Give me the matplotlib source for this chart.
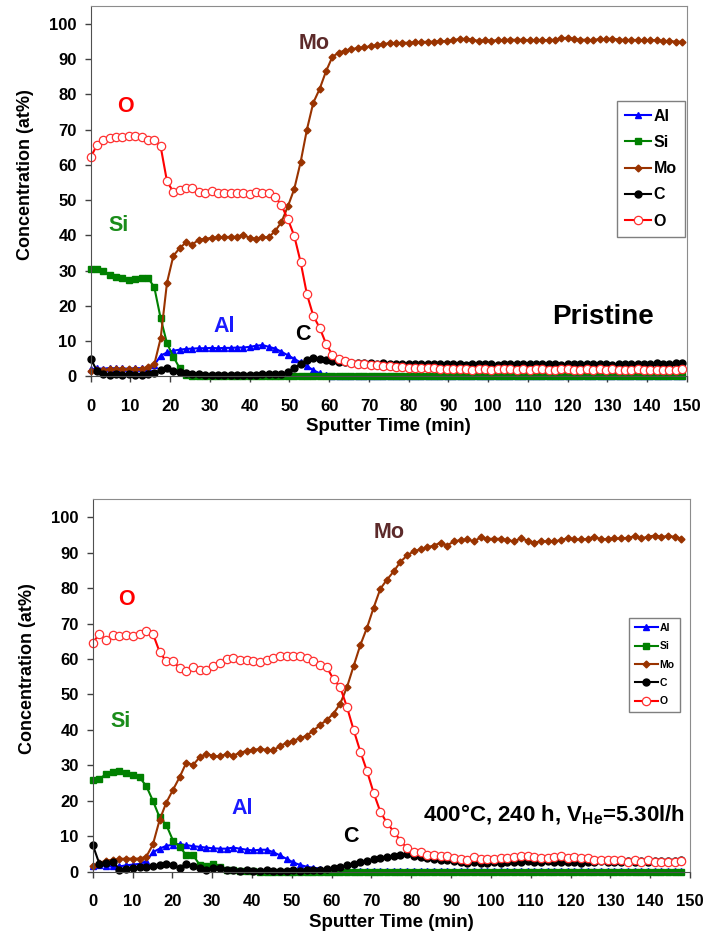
import numpy as np
import matplotlib
matplotlib.use('Agg')
import matplotlib.pyplot as plt

plt.rcParams['font.family'] = ['Liberation Sans', 'DejaVu Sans']
plt.rcParams['font.weight'] = 'bold'
plt.rcParams['axes.labelweight'] = 'bold'
plt.rcParams['mathtext.fontset'] = 'custom'
plt.rcParams['mathtext.rm'] = 'Liberation Sans'
plt.rcParams['mathtext.bf'] = 'Liberation Sans:bold'

# ---- top panel (pristine), one point every 1.6 min ----
t_top = np.arange(94) * 1.6

al_top = [2.0, 2.3, 2.2, 2.4, 2.3, 2.3, 2.2, 2.4, 2.3, 2.5,
          3.2, 5.9, 6.8, 7.3, 7.6, 7.8, 7.9, 8.0, 8.0, 8.1,
          8.0, 8.1, 8.1, 8.2, 8.2, 8.4, 8.7, 8.9, 8.4, 7.9,
          7.0, 6.0, 5.0, 4.0, 2.9, 1.8, 0.9, 0.4, 0.2, 0.1,
          0.1, 0.1, 0.1, 0.1, 0.1, 0.1, 0.1, 0.1, 0.1, 0.1,
          0.1, 0.1, 0.1, 0.1, 0.1, 0.1, 0.1, 0.1, 0.1, 0.1,
          0.1, 0.1, 0.1, 0.1, 0.1, 0.1, 0.1, 0.1, 0.1, 0.1,
          0.1, 0.1, 0.1, 0.1, 0.1, 0.1, 0.1, 0.1, 0.1, 0.1,
          0.1, 0.1, 0.1, 0.1, 0.1, 0.1, 0.1, 0.1, 0.1, 0.1,
          0.1, 0.1, 0.1, 0.1]
si_top = [30.6, 30.4, 29.9, 28.8, 28.3, 27.9, 27.4, 27.5, 27.8, 28.0,
          25.3, 16.5, 9.4, 5.6, 2.3, 0.5, 0.2, 0.1, 0.1, 0.0,
          0.0, 0.0, 0.0, 0.0, 0.0, 0.0, 0.0, 0.0, 0.0, 0.0,
          0.0, 0.0, 0.0, 0.0, 0.0, 0.0, 0.0, 0.0, 0.0, 0.0,
          0.0, 0.0, 0.0, 0.0, 0.0, 0.0, 0.0, 0.0, 0.0, 0.0,
          0.0, 0.0, 0.0, 0.0, 0.0, 0.0, 0.0, 0.0, 0.0, 0.0,
          0.0, 0.0, 0.0, 0.0, 0.0, 0.0, 0.0, 0.0, 0.0, 0.0,
          0.0, 0.0, 0.0, 0.0, 0.0, 0.0, 0.0, 0.0, 0.0, 0.0,
          0.0, 0.0, 0.0, 0.0, 0.0, 0.0, 0.0, 0.0, 0.0, 0.0,
          0.0, 0.0, 0.0, 0.0]
mo_top = [1.6, 1.8, 1.9, 2.0, 2.0, 2.0, 2.1, 2.0, 2.1, 2.8,
          3.4, 10.8, 26.6, 34.2, 36.4, 38.0, 37.4, 38.8, 39.0, 39.3,
          39.4, 39.5, 39.6, 39.6, 40.2, 39.2, 39.1, 39.4, 39.5, 41.2,
          43.8, 48.2, 53.1, 60.7, 70.0, 77.6, 81.5, 86.5, 90.6, 91.8,
          92.4, 92.8, 93.1, 93.3, 93.6, 93.9, 94.2, 94.5, 94.5, 94.6,
          94.6, 94.7, 94.8, 94.9, 94.9, 95.0, 95.1, 95.3, 95.7, 95.7,
          95.5, 95.1, 95.3, 95.2, 95.3, 95.4, 95.5, 95.4, 95.5, 95.3,
          95.4, 95.4, 95.3, 95.5, 95.9, 96.0, 95.7, 95.4, 95.5, 95.3,
          95.7, 95.6, 95.8, 95.5, 95.4, 95.4, 95.4, 95.3, 95.4, 95.3,
          95.1, 95.1, 94.9, 94.9]
c_top = [5.0, 1.6, 0.6, 0.5, 0.6, 0.3, 0.6, 0.4, 0.4, 0.6,
         1.1, 1.7, 2.4, 1.6, 1.2, 0.9, 0.7, 0.6, 0.5, 0.5,
         0.4, 0.4, 0.3, 0.4, 0.4, 0.5, 0.5, 0.6, 0.6, 0.7,
         0.8, 1.2, 2.3, 3.6, 4.7, 5.1, 4.9, 4.6, 4.3, 4.1,
         4.0, 3.9, 3.8, 3.8, 3.7, 3.6, 3.7, 3.5, 3.6, 3.5,
         3.4, 3.6, 3.5, 3.4, 3.5, 3.6, 3.5, 3.4, 3.5, 3.3,
         3.4, 3.5, 3.6, 3.4, 3.3, 3.5, 3.6, 3.4, 3.5, 3.6,
         3.5, 3.4, 3.6, 3.5, 3.3, 3.4, 3.6, 3.5, 3.4, 3.5,
         3.6, 3.4, 3.3, 3.5, 3.4, 3.6, 3.5, 3.4, 3.6, 3.7,
         3.5, 3.6, 3.8, 3.9]
o_top = [62.2, 65.6, 67.0, 67.6, 68.0, 68.0, 68.3, 68.2, 68.0, 67.0,
         67.0, 65.2, 55.3, 52.3, 52.8, 53.5, 53.3, 52.4, 52.0, 52.6,
         52.1, 52.0, 52.0, 52.1, 52.1, 51.6, 52.4, 52.1, 51.9, 51.0,
         48.5, 44.6, 39.9, 32.5, 23.3, 17.2, 13.8, 9.3, 6.1, 5.0,
         4.3, 3.8, 3.6, 3.4, 3.3, 3.2, 3.0, 2.9, 2.7, 2.6,
         2.5, 2.5, 2.4, 2.3, 2.4, 2.2, 2.1, 2.2, 2.0, 2.1,
         1.9, 2.0, 2.1, 1.9, 2.0, 2.0, 2.1, 1.9, 2.0, 1.8,
         2.0, 2.1, 1.9, 1.8, 2.0, 2.1, 1.9, 1.8, 2.0, 1.9,
         2.0, 1.8, 2.0, 1.9, 1.7, 1.9, 2.0, 1.8, 1.9, 1.7,
         1.9, 1.8, 1.9, 2.0]

# ---- bottom panel (400°C, 240 h), one point every 1.68 min ----
t_bot = np.arange(89) * 1.68

al_bot = [1.6, 1.8, 1.6, 1.5, 1.5, 1.8, 2.0, 2.2, 3.0, 5.5,
          6.5, 7.3, 7.6, 7.8, 7.5, 7.2, 7.0, 6.8, 6.6, 6.5,
          6.5, 6.8, 6.5, 6.2, 6.0, 6.2, 6.2, 5.5, 4.6, 3.6,
          2.6, 1.9, 1.4, 1.1, 0.9, 0.6, 0.4, 0.3, 0.2, 0.2,
          0.2, 0.1, 0.1, 0.1, 0.1, 0.1, 0.1, 0.1, 0.1, 0.1,
          0.1, 0.1, 0.1, 0.1, 0.1, 0.1, 0.1, 0.1, 0.1, 0.1,
          0.1, 0.1, 0.1, 0.1, 0.1, 0.1, 0.1, 0.1, 0.1, 0.1,
          0.1, 0.1, 0.1, 0.1, 0.1, 0.1, 0.1, 0.1, 0.1, 0.1,
          0.1, 0.1, 0.1, 0.1, 0.1, 0.1, 0.1, 0.1, 0.1]
si_bot = [25.8, 26.1, 27.6, 28.1, 28.5, 27.8, 27.3, 26.6, 24.2, 20.0,
          15.3, 13.2, 8.8, 7.1, 4.6, 4.7, 1.9, 1.5, 2.2, 1.4,
          0.6, 0.4, 0.2, 0.1, 0.1, 0.0, 0.0, 0.0, 0.0, 0.0,
          0.0, 0.0, 0.0, 0.0, 0.0, 0.0, 0.0, 0.0, 0.0, 0.0,
          0.0, 0.0, 0.0, 0.0, 0.0, 0.0, 0.0, 0.0, 0.0, 0.0,
          0.0, 0.0, 0.0, 0.0, 0.0, 0.0, 0.0, 0.0, 0.0, 0.0,
          0.0, 0.0, 0.0, 0.0, 0.0, 0.0, 0.0, 0.0, 0.0, 0.0,
          0.0, 0.0, 0.0, 0.0, 0.0, 0.0, 0.0, 0.0, 0.0, 0.0,
          0.0, 0.0, 0.0, 0.0, 0.0, 0.0, 0.0, 0.0, 0.0]
mo_bot = [1.5, 2.5, 3.1, 3.4, 3.6, 3.7, 3.7, 3.7, 4.2, 7.7,
          14.6, 19.5, 23.1, 26.7, 30.8, 30.1, 32.3, 33.2, 32.7, 32.5,
          33.2, 32.7, 33.6, 34.0, 34.4, 34.6, 34.4, 34.2, 35.5, 36.3,
          37.0, 37.6, 38.4, 39.8, 41.4, 42.8, 44.6, 47.4, 52.0, 58.0,
          63.9, 68.8, 74.5, 79.8, 82.4, 84.7, 87.4, 89.2, 90.4, 90.9,
          91.5, 92.0, 92.8, 92.0, 93.2, 93.5, 93.7, 93.2, 94.3, 93.9,
          93.9, 93.9, 93.5, 93.2, 94.0, 93.4, 92.8, 93.2, 93.2, 93.2,
          93.5, 94.1, 93.7, 93.7, 93.9, 94.5, 93.7, 93.9, 94.0, 94.0,
          94.2, 94.6, 94.0, 94.5, 94.8, 94.5, 94.6, 94.5, 93.9]
c_bot = [7.6, 2.2, 2.4, 2.8, 0.6, 0.8, 1.0, 1.2, 1.3, 1.7,
         2.0, 2.3, 2.0, 1.0, 2.3, 1.6, 1.0, 0.6, 1.0, 1.1,
         0.5, 0.4, 0.3, 0.4, 0.3, 0.3, 0.4, 0.3, 0.3, 0.3,
         0.4, 0.3, 0.4, 0.5, 0.6, 0.8, 1.0, 1.3, 1.8, 2.3,
         2.7, 3.1, 3.5, 3.9, 4.2, 4.5, 4.7, 4.9, 4.5, 4.2,
         3.9, 3.6, 3.4, 3.2, 2.9, 2.7, 2.5, 2.6, 2.4, 2.4,
         2.6, 2.5, 2.8, 2.6, 2.7, 3.0, 2.8, 2.7, 2.9, 2.6,
         2.7, 2.8, 2.6, 2.5, 2.8, 2.7, 2.9, 2.8, 2.7, 2.6,
         2.9, 2.7, 3.0, 2.8, 2.9, 3.0, 2.9, 3.1, 3.4]
o_bot = [64.5, 67.1, 65.3, 66.8, 66.4, 66.8, 66.6, 67.1, 68.0, 67.1,
         62.0, 59.3, 59.3, 57.5, 56.7, 57.6, 57.0, 57.0, 57.9, 59.0,
         60.1, 60.3, 59.8, 59.8, 59.3, 59.1, 59.6, 60.4, 60.7, 60.8,
         60.9, 60.8, 60.4, 59.4, 58.4, 57.6, 54.3, 52.0, 46.5, 40.0,
         33.9, 28.4, 22.2, 16.9, 13.7, 11.3, 8.8, 6.6, 5.6, 5.6,
         4.8, 4.7, 4.4, 4.3, 3.8, 3.6, 3.4, 4.1, 3.6, 3.7,
         3.7, 3.8, 3.8, 4.1, 4.3, 4.3, 4.1, 3.8, 3.8, 4.1,
         4.3, 3.8, 4.1, 3.8, 3.8, 3.2, 3.3, 3.3, 3.3, 3.2,
         2.8, 3.3, 2.8, 3.2, 2.8, 2.8, 2.8, 2.8, 3.0]

names = ['Al', 'Si', 'Mo', 'C', 'O']
colors = ['#0000ff', '#008000', '#993300', '#000000', '#ff0000']


def draw_panel(ax, t, series, leg_size, leg_anchor, leg_handle, leg_space):
    styles = [dict(marker='^', ms=5, mfc=colors[0], mec=colors[0]),
              dict(marker='s', ms=5, mfc=colors[1], mec=colors[1]),
              dict(marker='D', ms=3.5, mfc=colors[2], mec=colors[2]),
              dict(marker='o', ms=5, mfc=colors[3], mec=colors[3]),
              dict(marker='o', ms=6, mfc='white', mec='#ff3030', mew=0.9)]
    for name, col, vals, st in zip(names, colors, series, styles):
        ax.plot(t, vals, color=col, lw=1.5, label=name, clip_on=False, **st)

    ax.set_xlim(0, 150)
    ax.set_ylim(0, 105)
    ax.set_xticks(np.arange(0, 151, 10))
    ax.set_yticks(np.arange(0, 101, 10))
    ax.tick_params(axis='both', direction='out', length=4, width=1,
                   labelsize=12, color='#404040')
    ax.tick_params(axis='x', pad=12)
    ax.tick_params(axis='y', pad=6)
    for lbl in ax.get_xticklabels() + ax.get_yticklabels():
        lbl.set_fontweight('bold')
    for s in ['top', 'right']:
        ax.spines[s].set_color('#8c8c8c')
    for s in ['left', 'bottom']:
        ax.spines[s].set_color('#505050')

    ax.set_xlabel('Sputter Time (min)', fontsize=13.5, fontweight='bold')
    ax.xaxis.set_label_coords(0.5, -0.113)
    ax.set_ylabel('Concentration (at%)', fontsize=13, fontweight='bold',
                  va='center')
    ax.yaxis.set_label_coords(-0.11, 0.545)

    leg = ax.legend(loc='upper right', bbox_to_anchor=leg_anchor,
                    fontsize=leg_size, handlelength=leg_handle,
                    handletextpad=0.2, labelspacing=leg_space, borderpad=0.5,
                    fancybox=False, framealpha=1, edgecolor='#7f7f7f',
                    borderaxespad=0)
    leg.get_frame().set_linewidth(1.0)


def label(ax, x, y, s, col):
    ax.text(x, y, s, color=col, fontsize=15.5, fontweight='bold',
            ha='center', va='center')


fig = plt.figure(figsize=(7.04, 9.33), dpi=100)

ax1 = fig.add_axes([0.1288, 0.5965, 0.847, 0.397])
draw_panel(ax1, t_top, [al_top, si_top, mo_top, c_top, o_top],
           11.5, (0.9966, 0.744), 1.6, 0.7)
label(ax1, 8.8, 76.4, 'O', '#ff0000')
label(ax1, 56.2, 94.5, 'Mo', '#5c2a2a')
label(ax1, 7.1, 42.7, 'Si', '#1a8c1a')
label(ax1, 33.5, 14.3, 'Al', '#1a1aff')
label(ax1, 53.5, 11.8, 'C', '#000000')
ax1.text(128.8, 16.9, 'Pristine', fontsize=20, fontweight='bold',
         ha='center', va='center')

ax2 = fig.add_axes([0.1317, 0.0657, 0.8484, 0.399])
draw_panel(ax2, t_bot, [al_bot, si_bot, mo_bot, c_bot, o_bot],
           7.5, (0.983, 0.682), 2.2, 0.8)
label(ax2, 8.4, 76.8, 'O', '#ff0000')
label(ax2, 74.4, 95.6, 'Mo', '#5c2a2a')
label(ax2, 6.9, 42.4, 'Si', '#1a8c1a')
label(ax2, 37.6, 17.9, 'Al', '#1a1aff')
label(ax2, 64.8, 9.9, 'C', '#000000')
ax2.text(148.7, 16.0, r'400°C, 240 h, V$_\mathbf{He}$=5.30l/h', fontsize=16,
         fontweight='bold', ha='right', va='center')

fig.savefig('out.png', dpi=100)
